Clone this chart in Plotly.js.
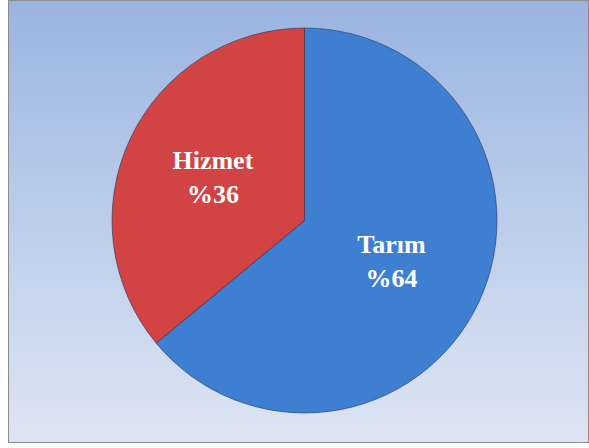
<!DOCTYPE html>
<html>
<head>
<meta charset="utf-8">
<script src="https://cdn.plot.ly/plotly-3.0.1.min.js"></script>
<style>
  html, body { margin: 0; padding: 0; background: #ffffff; }
  #wrap { position: relative; width: 589px; height: 448px; }
  #bg {
    position: absolute; left: 8px; top: 0px; width: 579px; height: 441px;
    border: 1px solid #8c8c8c;
    background: linear-gradient(to bottom, #9ab4e0 0%, #b9cbea 45%, #dde5f3 100%);
  }
  #chart { position: absolute; left: 0; top: 0; width: 589px; height: 448px; }
</style>
</head>
<body>
<div id="wrap">
  <div id="bg"></div>
  <div id="chart"></div>
</div>
<script>
// Sektör dağılımı
const sektorler = ['Tarım', 'Hizmet'];
const oranlar = [64, 36];
const renkler = ['#3f7fd1', '#d24343'];

const dilim = {
  type: 'pie',
  labels: sektorler,
  values: oranlar,
  sort: false,
  direction: 'clockwise',
  rotation: 0,
  marker: { colors: renkler, line: { color: 'rgba(30,45,80,0.55)', width: 1 } },
  texttemplate: '%{label}<br>%%{value}',
  textposition: 'inside',
  insidetextorientation: 'horizontal',
  textfont: { family: 'Liberation Serif, Times New Roman, serif', size: 26, color: '#ffffff', weight: 'bold' },
  hoverinfo: 'label+value',
  showlegend: false
};

const layout = {
  width: 589,
  height: 448,
  margin: { l: 112, r: 92, t: 28, b: 35 },
  paper_bgcolor: 'rgba(0,0,0,0)',
  plot_bgcolor: 'rgba(0,0,0,0)',
  showlegend: false
};

Plotly.newPlot('chart', [dilim], layout, { displayModeBar: false, staticPlot: true });
</script>
</body>
</html>
